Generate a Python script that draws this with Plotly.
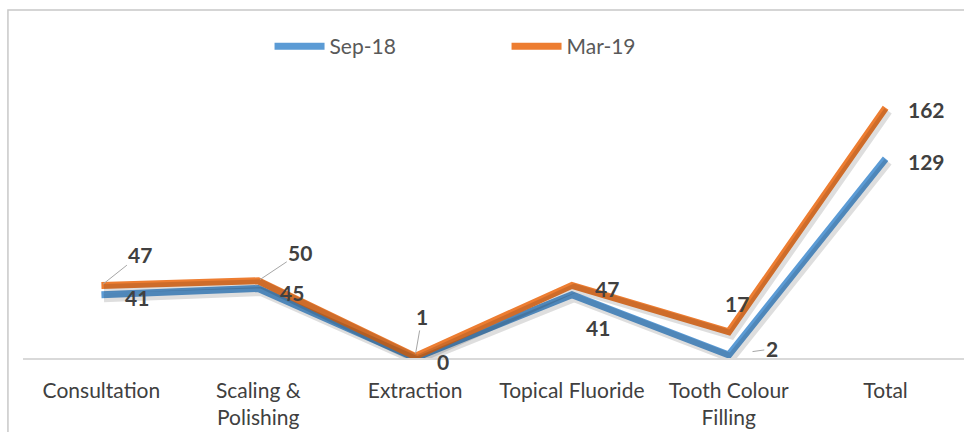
import plotly.graph_objects as go

categories = ["Consultation", "Scaling &<br>Polishing", "Extraction",
              "Topical Fluoride", "Tooth Colour<br>Filling", "Total"]
sep_18 = [41, 45, 0, 41, 2, 129]
mar_19 = [47, 50, 1, 47, 17, 162]

BLUE = "#5B9BD5"
ORANGE = "#ED7D31"
TEXT = "#404040"
FONT = "Lato"
Y_RANGE = [0, 180]
X_RANGE = [-0.5, 5.5]

fig = go.Figure()

# soft drop shadows drawn on hidden axes nudged a few pixels right/down
for values in (sep_18, mar_19):
    fig.add_trace(go.Scatter(x=categories, y=values, mode="lines", showlegend=False,
                             hoverinfo="skip", xaxis="x2", yaxis="y2",
                             line=dict(color="rgba(0,0,0,0.13)", width=9)))

fig.add_trace(go.Scatter(x=categories, y=sep_18, name="Sep-18", mode="lines",
                         line=dict(color=BLUE, width=7)))
fig.add_trace(go.Scatter(x=categories, y=mar_19, name="Mar-19", mode="lines",
                         line=dict(color=ORANGE, width=7)))

# data label placement per point: (dx, dy, leader, standoff); dy in px, down positive
sep_pos = [(36, 3, False, 0), (34, 4, False, 0), (28, 3, False, 0),
           (26, 33, False, 0), (43, -6, True, 24), (41, 3, False, 0)]
mar_pos = [(39, -31, True, 2), (42, -28, True, 2), (7, -40, True, 3),
           (35, 3, False, 0), (8, -28, False, 0), (41, 2, False, 0)]

for values, positions in ((sep_18, sep_pos), (mar_19, mar_pos)):
    for cat, v, (dx, dy, leader, stand) in zip(categories, values, positions):
        if leader:
            fig.add_annotation(x=cat, y=v, text=f"<b>{v}</b>", showarrow=True,
                               ax=dx, ay=dy, arrowhead=0, arrowwidth=1,
                               arrowcolor="#a6a6a6", standoff=stand,
                               font=dict(family=FONT, size=21, color=TEXT))
        else:
            fig.add_annotation(x=cat, y=v, text=f"<b>{v}</b>", showarrow=False,
                               xshift=dx, yshift=-dy,
                               font=dict(family=FONT, size=21, color=TEXT))

# chart area border
fig.add_shape(type="rect", xref="paper", yref="paper",
              x0=-0.016, x1=1.02, y0=-0.35, y1=1.252,
              line=dict(color="#c8c8c8", width=1.5), layer="below")

px_per_unit = 278 / (Y_RANGE[1] - Y_RANGE[0])
px_per_cat = 941 / (X_RANGE[1] - X_RANGE[0])
shadow_dx, shadow_dy = 2.5, 3.0

fig.update_layout(
    width=964, height=432,
    margin=dict(l=23, r=0, t=80, b=74),
    paper_bgcolor="white", plot_bgcolor="white",
    font=dict(family=FONT, color=TEXT),
    showlegend=True,
    legend=dict(orientation="h", x=0.262, xanchor="left", y=1.12, yanchor="middle",
                font=dict(family=FONT, size=21, color="#595959"),
                entrywidth=172, itemwidth=50, bgcolor="rgba(0,0,0,0)"),
    xaxis=dict(type="category", range=X_RANGE, showgrid=False,
               showline=True, linecolor="#d9d9d9", linewidth=1.5,
               ticks="", ticklabelstandoff=13,
               tickfont=dict(family=FONT, size=21, color=TEXT),
               fixedrange=True),
    yaxis=dict(range=Y_RANGE, showgrid=False, zeroline=False,
               showticklabels=False, showline=False, fixedrange=True),
    xaxis2=dict(type="category", overlaying="x", visible=False, fixedrange=True,
                range=[X_RANGE[0] - shadow_dx / px_per_cat,
                       X_RANGE[1] - shadow_dx / px_per_cat]),
    yaxis2=dict(overlaying="y", visible=False, fixedrange=True,
                range=[Y_RANGE[0] + shadow_dy / px_per_unit,
                       Y_RANGE[1] + shadow_dy / px_per_unit]),
)

fig.write_html("out.html")
